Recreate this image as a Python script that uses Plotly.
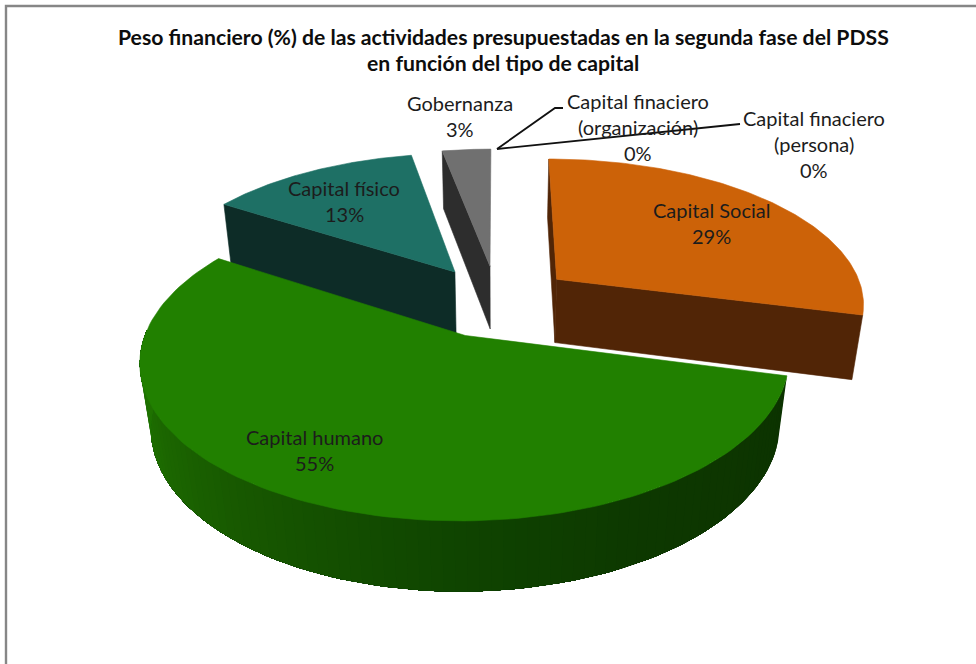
import numpy as np
import plotly.graph_objects as go

categories = ["Capital Social", "Capital humano", "Capital físico", "Gobernanza",
              "Capital finaciero (organización)", "Capital finaciero (persona)"]
values = [29, 55, 13, 3, 0, 0]
title_lines = ["Peso financiero (%) de las actividades presupuestadas en la segunda fase del PDSS",
               "en función del tipo de capital"]
label_lines = [["Capital Social"], ["Capital humano"], ["Capital físico"], ["Gobernanza"],
               ["Capital finaciero", "(organización)"], ["Capital finaciero", "(persona)"]]

top_colors = ["#cc6208", "#218000", "#1e7065", "#707070"]
wall_colors = ["#512506", "#0f3a00", "#0d2c27", "#2d2d2d"]
label_pos = [(711, 210), (314, 437), (344, 188), (460, 103), (638, 101), (814, 118)]

# projection of the exploded 3-D pie onto the page
CX, CY, F, G, K, H, M, EXPLODE = 497, 301, 309, 145, 0.154, 66, 0.03, 0.25


def project(X, Y, depth=0):
    w = 1 + K * Y + M * depth
    return CX + F * X / w, CY + (-G * Y + H * depth) / w


def rgb(t, stops):
    for (a, ca), (b, cb) in zip(stops, stops[1:]):
        if a <= t <= b:
            f = (t - a) / (b - a)
            c = [int(round(ca[i] + (cb[i] - ca[i]) * f)) for i in range(3)]
            return f"rgb({c[0]},{c[1]},{c[2]})"
    c = stops[-1][1]
    return f"rgb({c[0]},{c[1]},{c[2]})"


fig = go.Figure()


def poly(pts, color, line_width=0.6):
    xs = [p[0] for p in pts] + [pts[0][0]]
    ys = [p[1] for p in pts] + [pts[0][1]]
    fig.add_trace(go.Scatter(x=xs, y=ys, mode="lines", fill="toself", fillcolor=color,
                             line=dict(color=color, width=line_width), hoverinfo="skip", showlegend=False))


total = sum(values)
cum = np.cumsum([0] + values) / total * 2 * np.pi
slices = []
for i, v in enumerate(values):
    if v == 0:
        continue
    a0, a1 = cum[i], cum[i + 1]
    mid = (a0 + a1) / 2
    ox, oy = EXPLODE * np.sin(mid), EXPLODE * np.cos(mid)
    slices.append(dict(i=i, a0=a0, a1=a1, ox=ox, oy=oy))


def rim(s, a, depth=0):
    return project(s["ox"] + np.sin(a), s["oy"] + np.cos(a), depth)


def apex(s, depth=0):
    return project(s["ox"], s["oy"], depth)


def radial_wall(s, a, color):
    poly([apex(s), rim(s, a), rim(s, a, 1), apex(s, 1)], color)


def top(s, color):
    arc = [rim(s, a) for a in np.linspace(s["a0"], s["a1"], 120)]
    poly([apex(s)] + arc, color)


by_index = {s["i"]: s for s in slices}
# far to near
s = by_index[3]
radial_wall(s, s["a0"], wall_colors[3])
top(s, top_colors[3])
s = by_index[2]
radial_wall(s, s["a0"], wall_colors[2])
top(s, top_colors[2])
s = by_index[0]
radial_wall(s, s["a0"], wall_colors[0])
radial_wall(s, s["a1"], wall_colors[0])
top(s, top_colors[0])
s = by_index[1]
stops = [(np.radians(100), (12, 50, 0)), (np.radians(150), (13, 56, 0)), (np.radians(180), (15, 68, 0)),
         (np.radians(220), (24, 90, 0)), (np.radians(255), (30, 112, 0)), (np.radians(300), (33, 122, 0))]
edges = np.linspace(s["a0"], np.radians(272), 91)
# painted back to front, each band running on to the far end so no seams show
for k in range(len(edges) - 1):
    band = np.linspace(edges[k], edges[-1], max(2, len(edges) - k))
    outer = [rim(s, a) for a in band] + [rim(s, a, 1) for a in band[::-1]]
    poly(outer, rgb((edges[k] + edges[k + 1]) / 2, stops), 0)
top(s, top_colors[1])

# text
ann = []
for j, line in enumerate(title_lines):
    ann.append(dict(x=503, y=37 + 26 * j, text=f"<b>{line}</b>", showarrow=False,
                    font=dict(family="Lato", size=21.2, color="#0d0d0d"),
                    xanchor="center", yanchor="middle"))
for i, lines in enumerate(label_lines):
    x0, y0 = label_pos[i]
    full = lines + [f"{values[i]}%"]
    for j, line in enumerate(full):
        ann.append(dict(x=x0, y=y0 + 26 * j, text=line, showarrow=False,
                        font=dict(family="Lato", size=20, color="#1c1c1c"),
                        xanchor="center", yanchor="middle"))

# leader lines and frame
for pts in ([(497, 149), (555, 108), (563, 108)], [(497, 149), (733, 124), (740, 124)]):
    fig.add_trace(go.Scatter(x=[p[0] for p in pts], y=[p[1] for p in pts], mode="lines",
                             line=dict(color="#111111", width=1.8), hoverinfo="skip", showlegend=False))
fig.add_trace(go.Scatter(x=[6, 6, 976], y=[664, 6, 6], mode="lines",
                         line=dict(color="#868686", width=2.4), hoverinfo="skip", showlegend=False))

fig.update_layout(
    width=976, height=664, margin=dict(l=0, r=0, t=0, b=0),
    paper_bgcolor="white", plot_bgcolor="white", showlegend=False, annotations=ann,
    xaxis=dict(range=[0, 976], visible=False, fixedrange=True),
    yaxis=dict(range=[664, 0], visible=False, fixedrange=True),
)
fig.write_html("out.html", config=dict(displayModeBar=False),
               post_script="document.body.style.margin='0';document.body.style.overflow='hidden';")
